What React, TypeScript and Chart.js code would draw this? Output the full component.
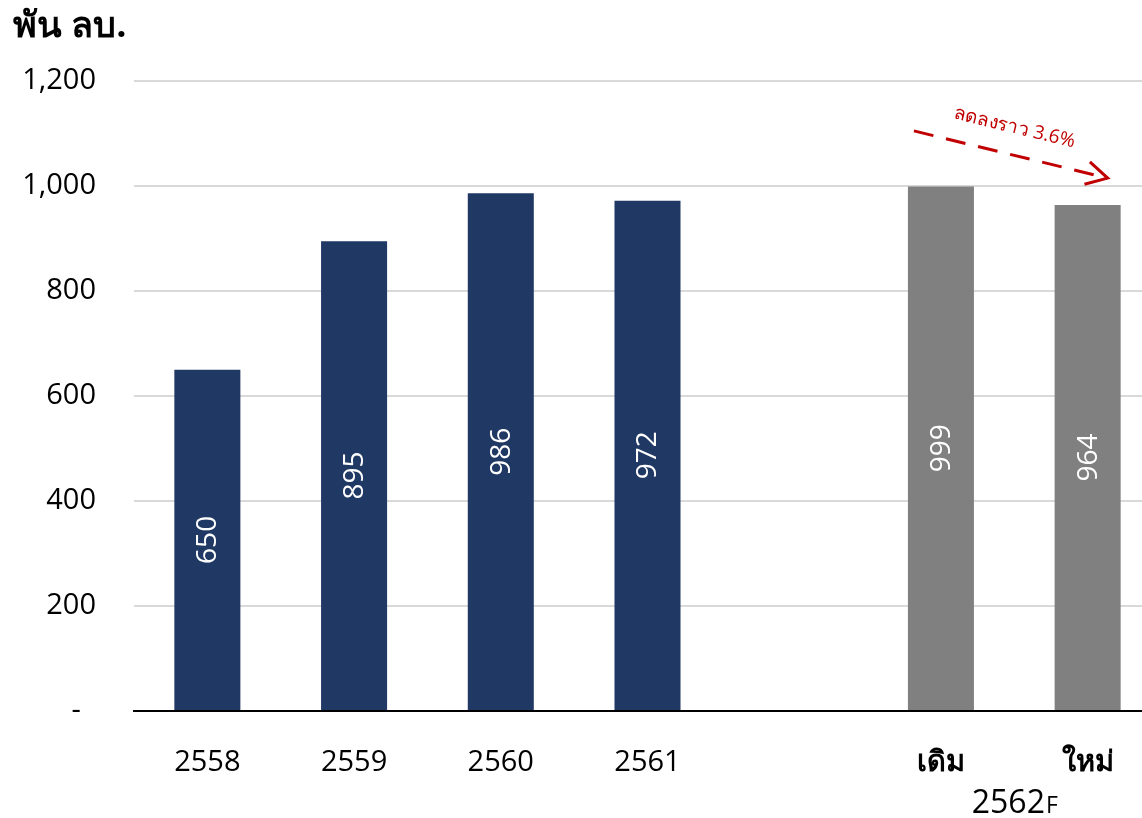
import React, { useEffect, useRef } from "react";
import { Chart, registerables } from "chart.js";

Chart.register(...registerables);

const categories = ["2558", "2559", "2560", "2561", "", "เดิม", "ใหม่"];
const values = [650, 895, 986, 972, null, 999, 964];
const yTicks = [0, 200, 400, 600, 800, 1000, 1200];
const unitTitle = "พัน ลบ.";
const groupLabel = "2562";
const groupSuffix = "F";
const arrowText = "ลดลงราว 3.6%";
const arrowFromValue = 1105;
const arrowToValue = 1015;

const NAVY = "#203864";
const GRAY = "#808080";
const RED = "#c00000";
const FONT = "'Open Sans', 'Noto Sans', sans-serif";

export default function App() {
  const ref = useRef<HTMLCanvasElement | null>(null);

  useEffect(() => {
    const canvas = ref.current;
    if (!canvas) return;

    const overlay = {
      id: "overlay",
      afterDatasetsDraw(chart: any) {
        const ctx = chart.ctx;
        const meta = chart.getDatasetMeta(0);
        ctx.save();
        ctx.fillStyle = "#ffffff";
        ctx.font = `28px ${FONT}`;
        ctx.textAlign = "center";
        ctx.textBaseline = "middle";
        meta.data.forEach((el: any, i: number) => {
          const v = values[i];
          if (v == null) return;
          const cy = (el.y + el.base) / 2;
          ctx.save();
          ctx.translate(el.x, cy);
          ctx.rotate(-Math.PI / 2);
          ctx.fillText(String(v), 0, 1);
          ctx.restore();
        });
        ctx.restore();
      },
      afterDraw(chart: any) {
        const ctx = chart.ctx;
        const xs = chart.scales.x;
        const ys = chart.scales.y;
        ctx.save();
        // unit title
        ctx.fillStyle = "#000";
        ctx.font = `bold 36px ${FONT}`;
        ctx.textAlign = "left";
        ctx.textBaseline = "middle";
        ctx.fillText(unitTitle, 13, 27);

        // group label 2562F
        const gx = (xs.getPixelForValue(5) + xs.getPixelForValue(6)) / 2;
        ctx.textBaseline = "alphabetic";
        ctx.font = `32px ${FONT}`;
        const w1 = ctx.measureText(groupLabel).width;
        ctx.font = `23px ${FONT}`;
        const w2 = ctx.measureText(groupSuffix).width;
        const start = gx - (w1 + w2) / 2;
        const baseY = 813;
        ctx.font = `32px ${FONT}`;
        ctx.fillText(groupLabel, start, baseY);
        ctx.font = `23px ${FONT}`;
        ctx.fillText(groupSuffix, start + w1 + 1, baseY);

        // arrow
        const x1 = xs.getPixelForValue(5) - 27;
        const y1 = ys.getPixelForValue(arrowFromValue);
        const x2 = xs.getPixelForValue(6) + 20;
        const y2 = ys.getPixelForValue(arrowToValue);
        const ang = Math.atan2(y2 - y1, x2 - x1);
        ctx.strokeStyle = RED;
        ctx.lineWidth = 3;
        ctx.setLineDash([20, 13]);
        ctx.beginPath();
        ctx.moveTo(x1, y1);
        ctx.lineTo(x2 - 4 * Math.cos(ang), y2 - 4 * Math.sin(ang));
        ctx.stroke();
        ctx.setLineDash([]);
        const ah = 24;
        const spread = 0.5;
        ctx.beginPath();
        ctx.moveTo(x2 - ah * Math.cos(ang - spread), y2 - ah * Math.sin(ang - spread));
        ctx.lineTo(x2, y2);
        ctx.lineTo(x2 - ah * Math.cos(ang + spread), y2 - ah * Math.sin(ang + spread));
        ctx.stroke();

        // arrow text
        const mx = (x1 + x2) / 2;
        const my = (y1 + y2) / 2;
        ctx.translate(mx, my);
        ctx.rotate(ang);
        ctx.fillStyle = RED;
        ctx.font = `19px ${FONT}`;
        ctx.textAlign = "center";
        ctx.textBaseline = "middle";
        ctx.fillText(arrowText, -3, -27);
        ctx.restore();
      },
    };

    const chart = new Chart(canvas, {
      type: "bar",
      data: {
        labels: categories,
        datasets: [
          {
            data: values as any,
            backgroundColor: values.map((_, i) => (i >= 5 ? GRAY : NAVY)),
            barPercentage: 0.45,
            categoryPercentage: 1,
          },
        ],
      },
      options: {
        responsive: false,
        animation: false,
        layout: { padding: { top: 81, right: 4, left: 0, bottom: 0 } },
        plugins: {
          legend: { display: false },
          tooltip: { enabled: false },
          title: { display: false },
        },
        scales: {
          x: {
            grid: { display: false },
            border: { display: true, color: "#000000", width: 2 },
            ticks: {
              color: "#000",
              padding: 26,
              maxRotation: 0,
              autoSkip: false,
              font: (c: any) => ({
                family: FONT,
                size: 29,
                weight: c.index >= 5 ? "bold" : "normal",
              }),
            },
            afterFit: (s: any) => {
              s.height = 107;
            },
          },
          y: {
            min: 0,
            max: 1200,
            afterBuildTicks: (s: any) => {
              s.ticks = yTicks.map((v) => ({ value: v }));
            },
            grid: { color: "#d9d9d9", lineWidth: 2, drawTicks: false },
            border: { display: false },
            ticks: {
              color: "#000",
              padding: 38,
              font: { family: FONT, size: 29 },
              callback: (v: any) =>
                Number(v) === 0 ? "-  " : Number(v).toLocaleString("en-US"),
            },
            afterFit: (s: any) => {
              s.width = 134;
            },
          },
        },
      },
      plugins: [overlay],
    });

    return () => chart.destroy();
  }, []);

  return (
    <div
      style={{
        position: "absolute",
        left: 0,
        top: 0,
        width: 1142,
        height: 818,
        overflow: "hidden",
        background: "#fff",
      }}
    >
      <canvas ref={ref} width={1165} height={818} style={{ display: "block" }} />
    </div>
  );
}
